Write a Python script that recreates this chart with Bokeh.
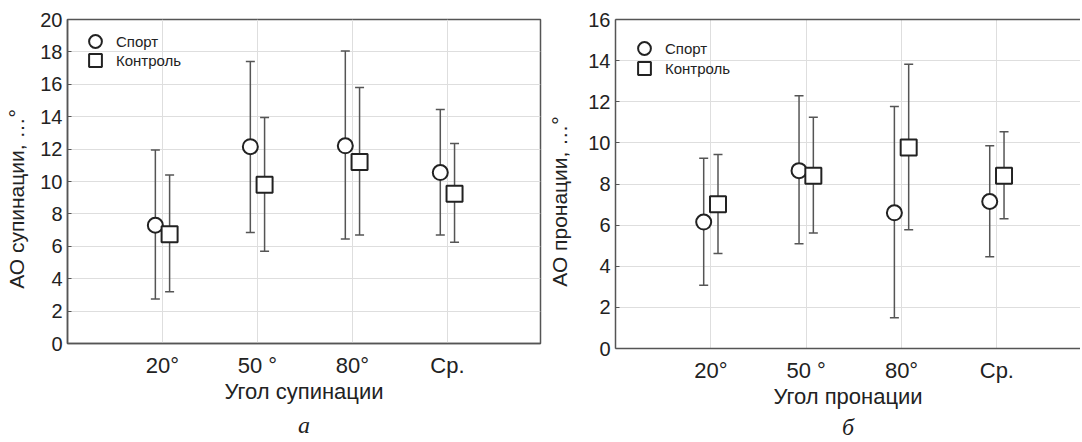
from bokeh.plotting import figure
from bokeh.models import (ColumnDataSource, Whisker, FixedTicker, Legend, LegendItem,
                          Title, LinearAxis, Range1d)
from bokeh.layouts import row
from bokeh.transform import dodge
from bokeh.embed import file_html
from bokeh.resources import INLINE

# ---- data ----
categories = ["20°", "50 °", "80°", "Ср."]

sup_sport_mean = [7.3, 12.15, 12.2, 10.55]
sup_sport_lo = [2.75, 6.85, 6.45, 6.7]
sup_sport_hi = [11.95, 17.4, 18.05, 14.45]
sup_ctrl_mean = [6.75, 9.8, 11.2, 9.25]
sup_ctrl_lo = [3.2, 5.7, 6.7, 6.25]
sup_ctrl_hi = [10.4, 13.95, 15.8, 12.35]

pro_sport_mean = [6.15, 8.65, 6.6, 7.15]
pro_sport_lo = [3.07, 5.1, 1.5, 4.46]
pro_sport_hi = [9.25, 12.29, 11.77, 9.86]
pro_ctrl_mean = [7.02, 8.4, 9.78, 8.4]
pro_ctrl_lo = [4.62, 5.62, 5.78, 6.31]
pro_ctrl_hi = [9.44, 11.25, 13.82, 10.54]

series_names = ["Спорт", "Контроль"]

FONT = "Liberation Sans"
DARK = "#222222"
BAR = "#555555"
GRID = "#dedede"
OFF = 0.075
PAD = "\u00a0" * 6


def make_chart(width, height, ymax, xend, ylabel, xlabel, caption,
               sport, ctrl, mb_left, mb_right, mb_top, mb_bottom,
               outline, legend_locs, ylabel_standoff, caption_standoff):
    p = figure(width=width, height=height, x_range=Range1d(0, xend),
               y_range=Range1d(0, ymax), output_backend="svg",
               toolbar_location=None, min_border_left=mb_left,
               min_border_right=mb_right, min_border_top=mb_top,
               min_border_bottom=mb_bottom, background_fill_color="white",
               border_fill_color="white")
    p.frame_align = False
    xs = list(range(1, len(categories) + 1))

    p.xaxis.ticker = FixedTicker(ticks=xs)
    p.xaxis.major_label_overrides = {x: c for x, c in zip(xs, categories)}
    p.yaxis.ticker = FixedTicker(ticks=list(range(0, ymax + 1, 2)))

    p.xgrid.grid_line_color = GRID
    p.ygrid.grid_line_color = GRID
    p.xgrid.grid_line_width = 1
    p.ygrid.grid_line_width = 1

    for ax in (p.xaxis[0], p.yaxis[0]):
        ax.axis_line_color = "#555555"
        ax.axis_line_width = 1.5
        ax.minor_tick_line_color = None
        ax.major_tick_out = 0
        ax.major_label_text_font = FONT
        ax.major_label_text_color = DARK
        ax.axis_label_text_font = FONT
        ax.axis_label_text_color = DARK
        ax.axis_label_text_font_style = "normal"
    p.xaxis.major_tick_in = 0
    p.yaxis.major_tick_in = 4
    p.yaxis.major_tick_line_color = "#555555"
    p.xaxis.major_label_text_font_size = "22px"
    p.yaxis.major_label_text_font_size = "20px"
    p.xaxis.axis_label_text_font_size = "22px"
    p.yaxis.axis_label_text_font_size = "21px"
    p.xaxis.major_label_standoff = 9
    p.xaxis.axis_label_standoff = -2
    p.yaxis.major_label_standoff = 5
    p.yaxis.axis_label_standoff = ylabel_standoff
    p.xaxis.axis_label = xlabel
    p.yaxis.axis_label = ylabel + PAD

    if outline:
        p.outline_line_color = "#555555"
        p.outline_line_width = 1.5
    else:
        p.outline_line_color = None
        top = LinearAxis(axis_line_color="#555555", axis_line_width=1.5,
                         major_tick_in=0, major_tick_out=0,
                         minor_tick_line_color=None,
                         major_label_standoff=0,
                         ticker=FixedTicker(ticks=[]))
        p.add_layout(top, "above")

    renderers = []
    for (mean, lo, hi), off, marker in ((sport, -OFF, "circle"),
                                        (ctrl, OFF, "square")):
        src = ColumnDataSource(dict(x=xs, mean=mean, lo=lo, hi=hi))
        w = Whisker(source=src, base=dodge("x", off), upper="hi", lower="lo",
                    line_color=BAR, line_width=1.5, level="underlay")
        for h in (w.upper_head, w.lower_head):
            h.size = 9
            h.line_color = BAR
            h.line_width = 1.5
        p.add_layout(w)
        r = p.scatter(x=dodge("x", off), y="mean", source=src, marker=marker,
                      size=15 if marker == "circle" else 16,
                      fill_color="white", line_color=DARK, line_width=2)
        renderers.append(r)

    for name, r, loc in zip(series_names, renderers, legend_locs):
        lg = Legend(items=[LegendItem(label=name, renderers=[r])],
                    location=loc, border_line_color=None,
                    background_fill_alpha=0, label_text_font=FONT,
                    label_text_font_size="15px", label_text_color=DARK,
                    glyph_width=32, glyph_height=32, label_height=32,
                    spacing=0, padding=0, margin=0, label_standoff=5)
        p.add_layout(lg)

    p.add_layout(Title(text=caption, align="center", text_font="Liberation Serif",
                       text_font_style="italic", text_font_size="24px",
                       text_color=DARK, standoff=caption_standoff), "below")
    return p


p1 = make_chart(545, 440, 20, 4.98, "АО супинации, …°", "Угол супинации", "а",
                (sup_sport_mean, sup_sport_lo, sup_sport_hi),
                (sup_ctrl_mean, sup_ctrl_lo, sup_ctrl_hi),
                67, 5, 19, 96, True, [(12, 286), (12, 267)], 9, 6)
p2 = make_chart(535, 440, 16, 4.877, "АО пронации, …°", "Угол пронации", "б",
                (pro_sport_mean, pro_sport_lo, pro_sport_hi),
                (pro_ctrl_mean, pro_ctrl_lo, pro_ctrl_hi),
                68, 0, 19, 92, False, [(13, 284), (13, 264)], 14, 1)

layout = row(p1, p2, spacing=0)
open("out.html", "w").write(file_html(layout, INLINE))
